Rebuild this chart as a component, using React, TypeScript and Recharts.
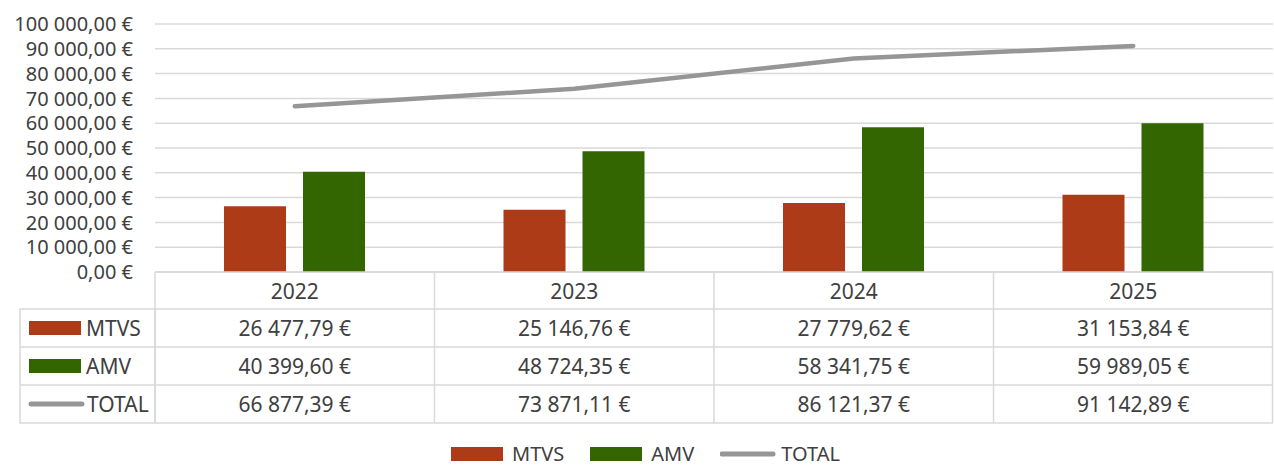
import React from "react";
import { ComposedChart, Bar, Line, CartesianGrid, XAxis, YAxis, Legend } from "recharts";

const YEARS = ["2022", "2023", "2024", "2025"];
const MTVS = [26477.79, 25146.76, 27779.62, 31153.84];
const AMV = [40399.6, 48724.35, 58341.75, 59989.05];
const TOTAL = [66877.39, 73871.11, 86121.37, 91142.89];
const Y_TICKS = [0, 10000, 20000, 30000, 40000, 50000, 60000, 70000, 80000, 90000, 100000];

const SERIES = [
  { key: "mtvs", name: "MTVS", color: "#ae3b18", kind: "bar", values: MTVS },
  { key: "amv", name: "AMV", color: "#336600", kind: "bar", values: AMV },
  { key: "total", name: "TOTAL", color: "#969696", kind: "line", values: TOTAL },
];

const W = 1274;
const H = 468;
const PLOT_LEFT = 155;
const PLOT_RIGHT = 1;
const COL_W = (W - PLOT_LEFT - PLOT_RIGHT) / YEARS.length;
const HEAD_H = 37;
const ROW_H = 38;
const FONT = "'Noto Sans', sans-serif";
const FS = 21;
const TEXT = "#404040";
const BORDER = "#d9d9d9";

const data = YEARS.map((year, i) => ({
  year,
  mtvs: MTVS[i],
  amv: AMV[i],
  total: TOTAL[i],
}));

function euro(n: number) {
  const [int, dec] = n.toFixed(2).split(".");
  return `${int.replace(/\B(?=(\d{3})+(?!\d))/g, " ")},${dec} €`;
}

function Swatch({ s, x, y }: { s: (typeof SERIES)[number]; x: number; y: number }) {
  if (s.kind === "line") {
    return <line x1={x + 2} x2={x + 53} y1={y} y2={y} stroke={s.color} strokeWidth={5} strokeLinecap="round" />;
  }
  return <rect x={x} y={y - 7} width={52} height={14} fill={s.color} />;
}

function TableTick(props: any) {
  const { x, y, index } = props;
  const left = x - COL_W / 2;
  const top = y;
  const bottom = top + HEAD_H + ROW_H * SERIES.length;
  return (
    <g fontFamily={FONT} fontSize={FS} fill={TEXT}>
      <line x1={left} x2={left + COL_W} y1={top} y2={top} stroke={BORDER} strokeWidth={1.5} />
      <line x1={left} x2={left} y1={top} y2={bottom} stroke={BORDER} strokeWidth={1.5} />
      {index === YEARS.length - 1 && (
        <line x1={left + COL_W - 0.5} x2={left + COL_W - 0.5} y1={top} y2={bottom} stroke={BORDER} strokeWidth={1.5} />
      )}
      <text x={x} y={top + HEAD_H / 2} textAnchor="middle" dominantBaseline="central">
        {YEARS[index]}
      </text>
      {SERIES.map((s, r) => {
        const rowTop = top + HEAD_H + r * ROW_H;
        return (
          <g key={s.key}>
            <line x1={left} x2={left + COL_W} y1={rowTop} y2={rowTop} stroke={BORDER} strokeWidth={1.5} />
            <text x={x} y={rowTop + ROW_H / 2} textAnchor="middle" dominantBaseline="central">
              {euro(s.values[index])}
            </text>
          </g>
        );
      })}
      <line x1={left} x2={left + COL_W} y1={bottom} y2={bottom} stroke={BORDER} strokeWidth={1.5} />
      {index === 0 && (
        <g>
          <rect x={20} y={top + HEAD_H} width={left - 20} height={ROW_H * SERIES.length} fill="none" stroke={BORDER} strokeWidth={1.5} />
          {SERIES.map((s, r) => {
            const cy = top + HEAD_H + r * ROW_H + ROW_H / 2;
            return (
              <g key={s.key}>
                {r > 0 && <line x1={20} x2={left} y1={cy - ROW_H / 2} y2={cy - ROW_H / 2} stroke={BORDER} strokeWidth={1.5} />}
                <Swatch s={s} x={29} y={cy} />
                <text x={s.kind === "line" ? 87 : 86} y={cy} dominantBaseline="central">
                  {s.name}
                </text>
              </g>
            );
          })}
        </g>
      )}
    </g>
  );
}

function LegendContent() {
  return (
    <div style={{ display: "flex", justifyContent: "center", paddingTop: 22, paddingLeft: 18, fontFamily: FONT, fontSize: 20, color: TEXT, lineHeight: "18px" }}>
      {SERIES.map((s, i) => (
        <div key={s.key} style={{ display: "flex", alignItems: "center", marginLeft: i === 0 ? 0 : 26, height: 18 }}>
          <svg width={56} height={16} style={{ marginRight: 5 }}>
            <Swatch s={s} x={0} y={8} />
          </svg>
          <span>{s.name}</span>
        </div>
      ))}
    </div>
  );
}

export default function App() {
  return (
    <div style={{ position: "absolute", left: 0, top: 0, width: W, height: H, background: "#fff" }}>
      <ComposedChart
        width={W}
        height={H}
        data={data}
        margin={{ top: 24, right: PLOT_RIGHT, left: 0, bottom: 0 }}
        barGap={17}
        barSize={62}
      >
        <CartesianGrid vertical={false} stroke={BORDER} strokeWidth={1.5} />
        <XAxis dataKey="year" axisLine={false} tickLine={false} tickSize={0} tickMargin={0} height={151} interval={0} tick={<TableTick />} />
        <YAxis
          width={PLOT_LEFT}
          domain={[0, 100000]}
          ticks={Y_TICKS}
          interval={0}
          axisLine={false}
          tickLine={false}
          tickSize={0}
          tickMargin={22}
          tickFormatter={euro}
          tick={{ fill: TEXT, fontSize: 20, fontFamily: FONT }}
        />
        <Bar dataKey="mtvs" name="MTVS" fill="#ae3b18" isAnimationActive={false} />
        <Bar dataKey="amv" name="AMV" fill="#336600" isAnimationActive={false} />
        <Line dataKey="total" name="TOTAL" type="linear" stroke="#969696" strokeWidth={4.5} strokeLinecap="round" dot={false} activeDot={false} isAnimationActive={false} />
        <Legend verticalAlign="bottom" height={45} content={<LegendContent />} />
      </ComposedChart>
    </div>
  );
}
